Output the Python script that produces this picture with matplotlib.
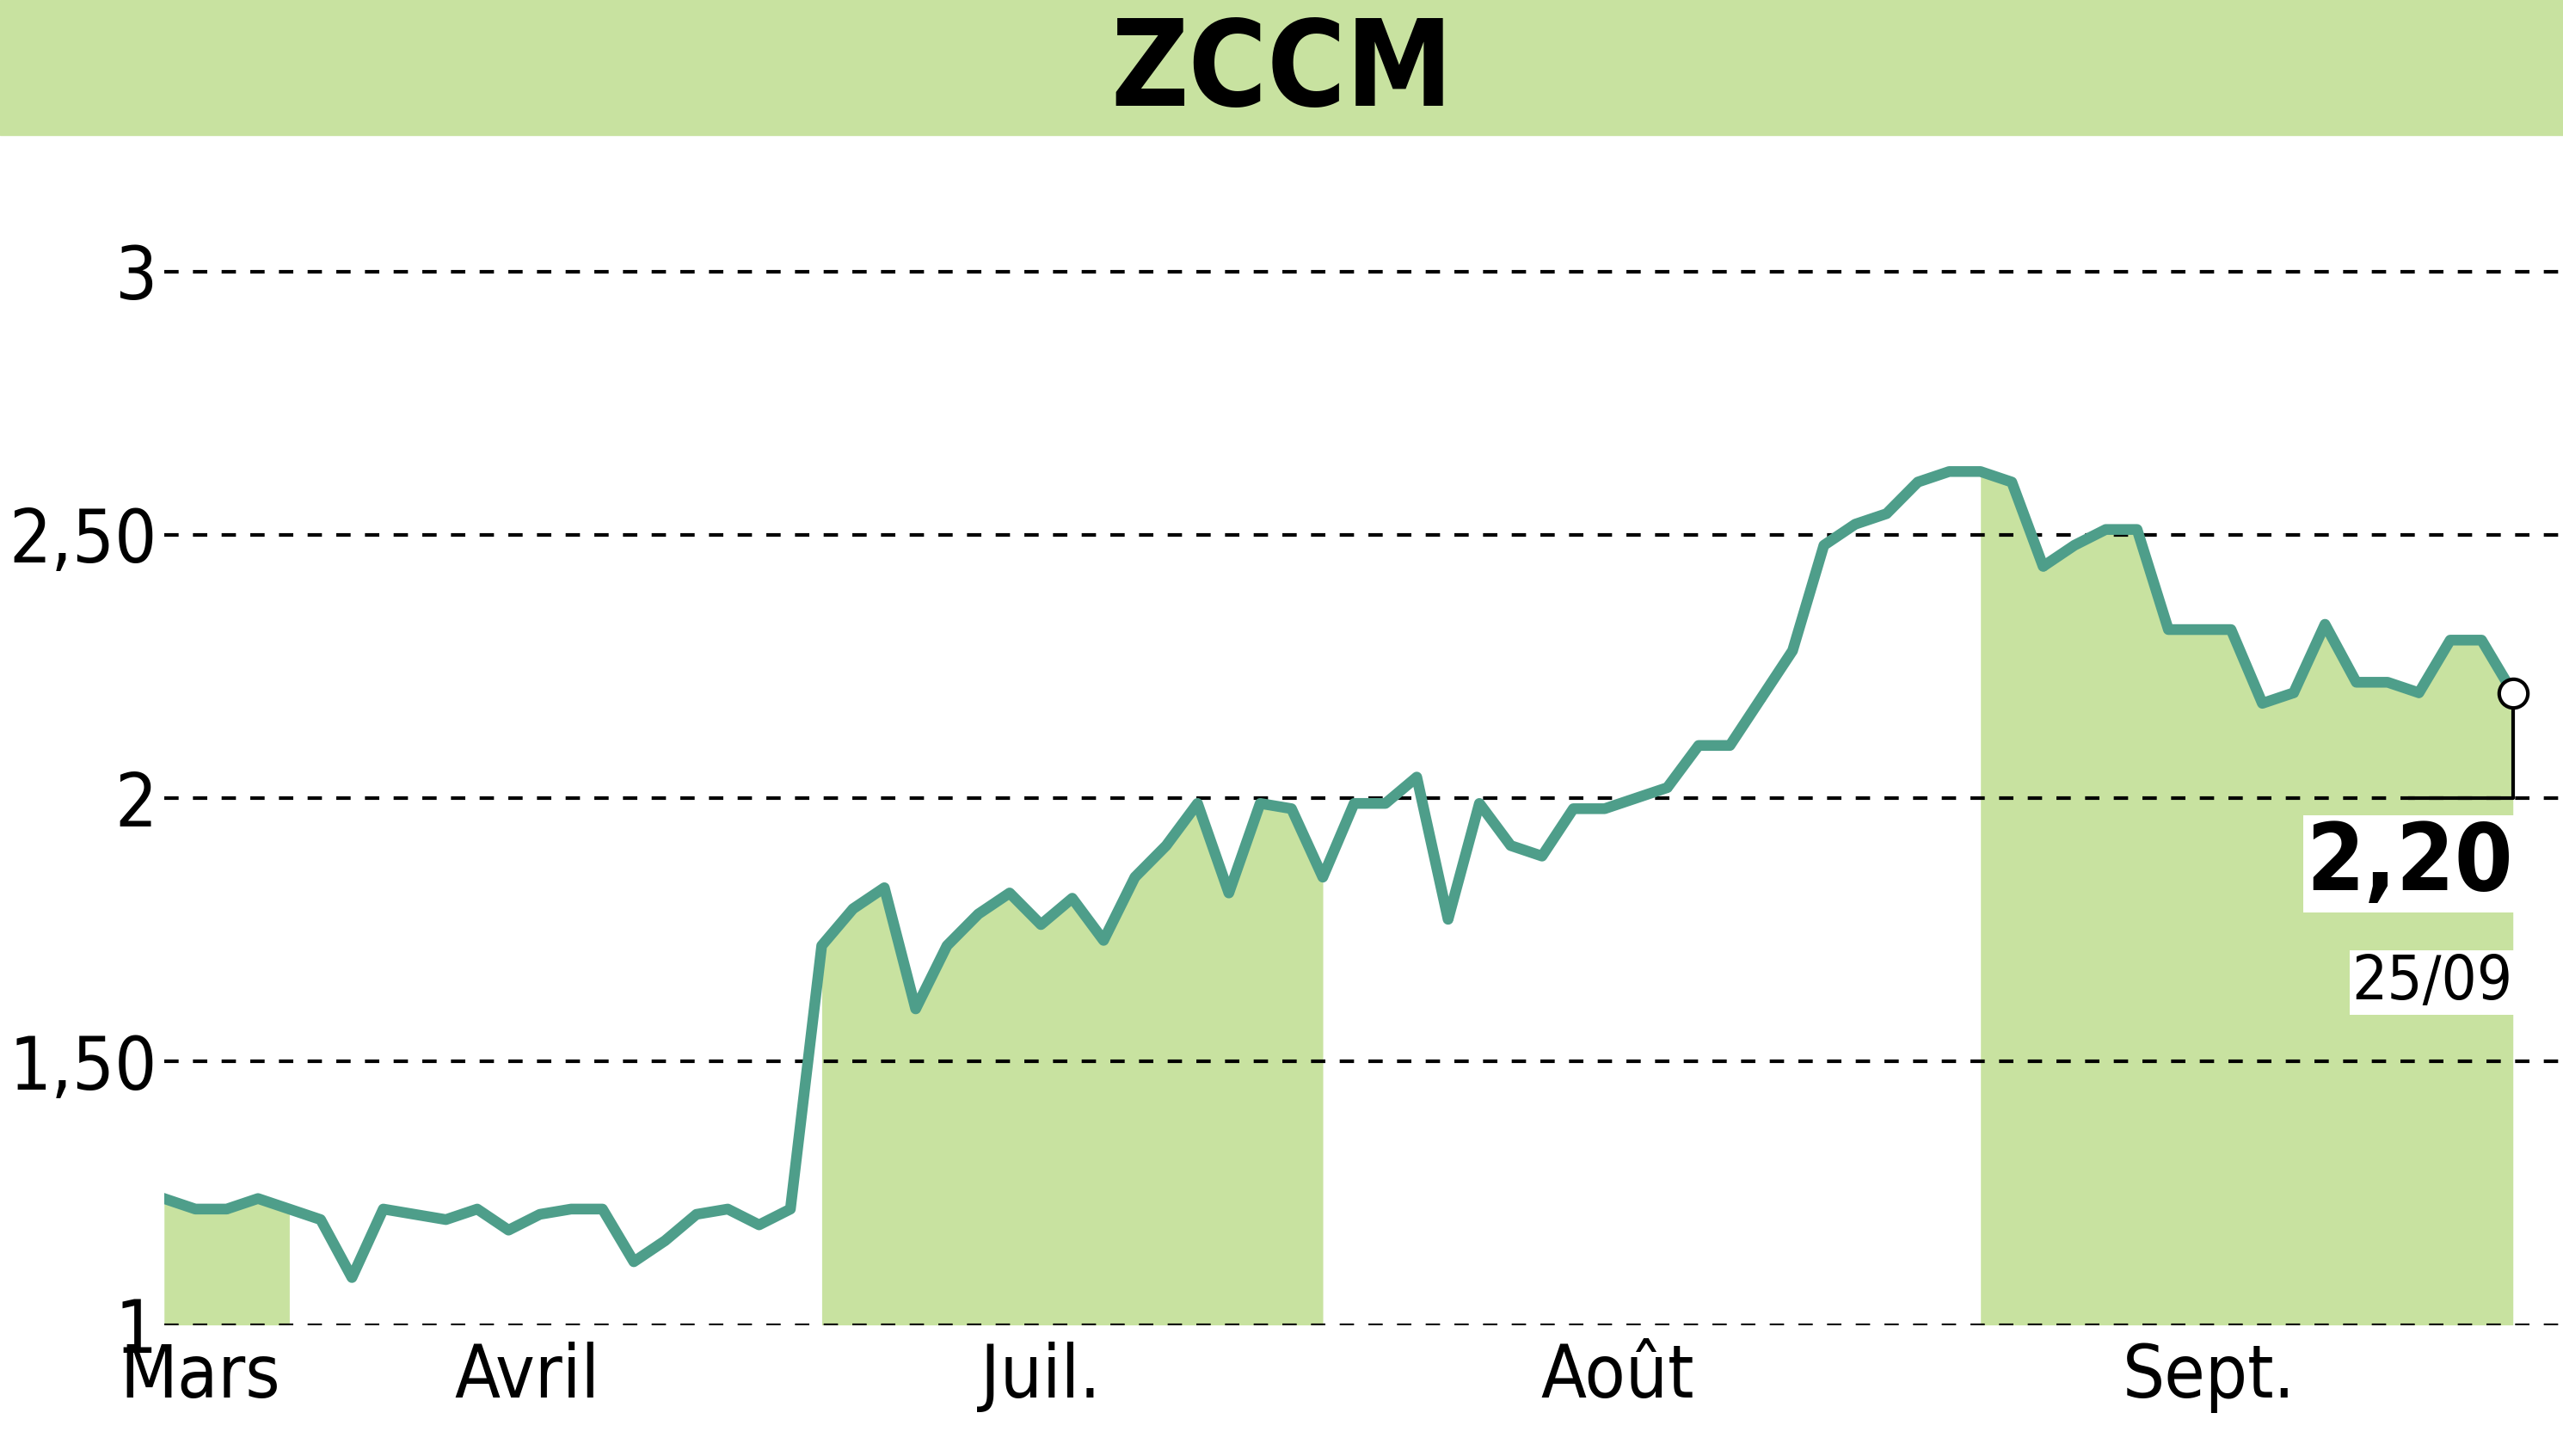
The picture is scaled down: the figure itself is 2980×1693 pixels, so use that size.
import numpy as np
import matplotlib.pyplot as plt

# values
prices = [1.24, 1.22, 1.22, 1.24, 1.22, 1.20, 1.09, 1.22, 1.21, 1.20,
          1.22, 1.18, 1.21, 1.22, 1.22, 1.12, 1.16, 1.21, 1.22, 1.19,
          1.22, 1.72, 1.79, 1.83, 1.60, 1.72, 1.78, 1.82, 1.76, 1.81,
          1.73, 1.85, 1.91, 1.99, 1.82, 1.99, 1.98, 1.85, 1.99, 1.99,
          2.04, 1.77, 1.99, 1.91, 1.89, 1.98, 1.98, 2.00, 2.02, 2.10,
          2.10, 2.19, 2.28, 2.48, 2.52, 2.54, 2.60, 2.62, 2.62, 2.60,
          2.44, 2.48, 2.51, 2.51, 2.32, 2.32, 2.32, 2.18, 2.20, 2.33,
          2.22, 2.22, 2.20, 2.30, 2.30, 2.20]
months = ["Mars", "Avril", "Juil.", "Août", "Sept."]
month_pos = [1.15, 11.6, 28.0, 46.4, 65.3]
bands = [(0, 4), (21, 37), (58, 75)]
yticks = [1, 1.5, 2, 2.5, 3]
ylabels = ["1", "1,50", "2", "2,50", "3"]
title = "ZCCM"
last_label = "2,20"
last_date = "25/09"

font = ["DejaVu Sans"]
green = "#c8e2a0"
teal = "#4e9e8a"

x = np.arange(len(prices))
y = np.array(prices)

fig = plt.figure(figsize=(29.8, 16.93), dpi=100)
fig.patches.append(plt.Rectangle((0, 0.907), 1, 0.093, transform=fig.transFigure,
                                 color=green, zorder=0))
fig.text(0.5, 0.95, title, ha="center", va="center", fontsize=100,
         fontweight="bold", family=font, fontstretch="condensed")

ax = fig.add_axes([0.064, 0.09, 0.936, 0.796])
ax.set_xlim(0, 76.6)
ax.set_ylim(1, 3.2)
for s in ax.spines.values():
    s.set_visible(False)

for a, b in bands:
    m = (x >= a) & (x <= b)
    ax.fill_between(x[m], 1, y[m], color=green, lw=0, zorder=1)

for t in yticks:
    ax.axhline(t, color="black", ls=(0, (4, 4)), lw=3, zorder=2)

ax.plot(x, y, color=teal, lw=9, marker="o", ms=6, zorder=3)
ax.plot(x[-1], y[-1], "o", ms=24, mfc="white", mec="black", mew=3, zorder=4)
ax.plot([x[-1], x[-1], x[-1] - 3.3], [y[-1] - 0.03, 2, 2], color="black", lw=3, zorder=4)

ax.text(x[-1], 1.875, last_label, ha="right", va="center", fontsize=78,
        fontweight="bold", family=font, fontstretch="condensed", zorder=5,
        bbox=dict(facecolor="white", edgecolor="none", pad=2))
ax.text(x[-1], 1.65, last_date, ha="right", va="center", fontsize=52,
        family=font, fontstretch="condensed", zorder=5,
        bbox=dict(facecolor="white", edgecolor="none", pad=2))

ax.set_yticks(yticks)
ax.set_yticklabels(ylabels, family=font, fontsize=62, fontstretch="condensed")
ax.set_xticks(month_pos)
ax.set_xticklabels(months, family=font, fontsize=62, fontstretch="condensed")
ax.tick_params(length=0, pad=6)
ax.tick_params(axis="x", pad=14)

fig.savefig("out.png", dpi=100)
